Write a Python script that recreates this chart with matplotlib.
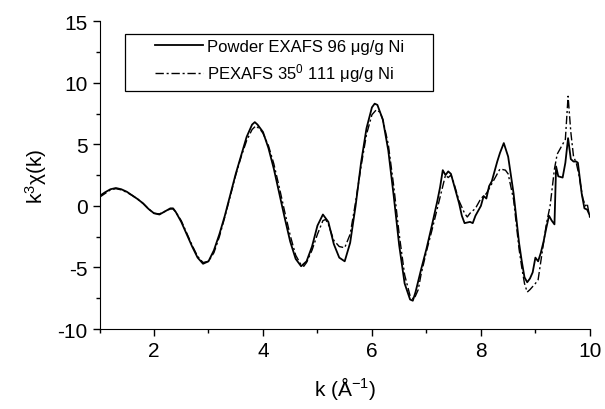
import matplotlib
matplotlib.use("Agg")
import matplotlib.pyplot as plt
from matplotlib.patches import Rectangle
from matplotlib.ticker import MultipleLocator

plt.rcParams['font.family'] = ['Liberation Sans', 'DejaVu Sans']
plt.rcParams['mathtext.fontset'] = 'custom'
plt.rcParams['mathtext.rm'] = 'Liberation Sans'
plt.rcParams['mathtext.default'] = 'regular'
plt.rcParams['axes.unicode_minus'] = False

# Powder EXAFS, 96 ug/g Ni (solid)
k_powder = [1.0, 1.1, 1.2, 1.3, 1.4, 1.5, 1.6, 1.7, 1.8, 1.9, 2.0, 2.1, 2.2, 2.3, 2.35,
            2.4, 2.5, 2.6, 2.7, 2.8, 2.9, 3.0, 3.1, 3.2, 3.3, 3.4, 3.5, 3.6, 3.7, 3.8,
            3.85, 3.9, 4.0, 4.1, 4.2, 4.3, 4.4, 4.5, 4.6, 4.7, 4.8, 4.9, 5.0, 5.1, 5.2,
            5.3, 5.4, 5.5, 5.6, 5.7, 5.8, 5.9, 6.0, 6.05, 6.1, 6.2, 6.3, 6.4, 6.5, 6.6,
            6.7, 6.75, 6.8, 6.9, 7.0, 7.1, 7.2, 7.25, 7.3, 7.35, 7.4, 7.45, 7.5, 7.6,
            7.65, 7.7, 7.8, 7.85, 7.9, 8.0, 8.05, 8.1, 8.15, 8.2, 8.3, 8.35, 8.42, 8.5,
            8.6, 8.65, 8.7, 8.75, 8.8, 8.85, 8.9, 8.95, 9.0, 9.05, 9.1, 9.15, 9.2, 9.25,
            9.3, 9.35, 9.38, 9.42, 9.5, 9.55, 9.6, 9.65, 9.7, 9.75, 9.78, 9.85, 9.9,
            9.95, 10.0]
chi_powder = [0.8, 1.1, 1.35, 1.45, 1.35, 1.15, 0.85, 0.55, 0.2, -0.25, -0.6, -0.7, -0.45,
              -0.2, -0.2, -0.5, -1.3, -2.3, -3.3, -4.2, -4.7, -4.5, -3.6, -2.3, -0.8, 0.9,
              2.6, 4.1, 5.6, 6.6, 6.8, 6.6, 6.0, 4.7, 3.0, 1.0, -1.0, -2.9, -4.3, -4.9,
              -4.5, -3.3, -1.6, -0.7, -1.3, -3.1, -4.2, -4.5, -3.0, 0.0, 3.5, 6.3, 8.0,
              8.3, 8.2, 7.0, 4.5, 0.8, -3.2, -6.3, -7.6, -7.7, -7.0, -5.2, -3.5, -1.6,
              0.4, 1.5, 2.9, 2.5, 2.8, 2.6, 1.8, 0.2, -0.8, -1.4, -1.3, -1.4, -0.8, 0.0,
              0.8, 0.6, 1.6, 2.0, 3.6, 4.3, 5.1, 4.0, 1.0, -1.0, -3.0, -4.5, -5.8, -6.2,
              -5.9, -5.4, -4.2, -4.5, -3.8, -2.9, -1.8, -0.8, -1.2, -1.5, 3.2, 2.4, 2.3,
              3.5, 5.5, 3.8, 3.6, 3.6, 3.5, 1.0, -0.2, -0.3, -0.8]

# PEXAFS 35 deg, 111 ug/g Ni (dash-dot)
k_pexafs = [1.0, 1.1, 1.2, 1.3, 1.4, 1.5, 1.6, 1.7, 1.8, 1.9, 2.0, 2.1, 2.2, 2.3, 2.35,
            2.4, 2.5, 2.6, 2.7, 2.8, 2.9, 3.0, 3.1, 3.2, 3.3, 3.4, 3.5, 3.6, 3.7, 3.8,
            3.87, 3.95, 4.0, 4.1, 4.2, 4.3, 4.4, 4.5, 4.6, 4.7, 4.75, 4.8, 4.9, 5.0,
            5.1, 5.15, 5.2, 5.3, 5.4, 5.5, 5.6, 5.7, 5.8, 5.9, 6.0, 6.08, 6.15, 6.2,
            6.3, 6.4, 6.5, 6.6, 6.7, 6.77, 6.85, 6.9, 7.0, 7.1, 7.2, 7.3, 7.35, 7.4,
            7.45, 7.5, 7.6, 7.7, 7.75, 7.8, 7.9, 8.0, 8.1, 8.2, 8.3, 8.35, 8.45, 8.5,
            8.6, 8.65, 8.7, 8.75, 8.8, 8.85, 8.9, 9.0, 9.05, 9.1, 9.2, 9.27, 9.35, 9.4,
            9.5, 9.55, 9.6, 9.65, 9.7, 9.75, 9.8, 9.87, 9.92, 9.95, 10.0]
chi_pexafs = [0.7, 1.0, 1.3, 1.4, 1.3, 1.1, 0.85, 0.55, 0.2, -0.25, -0.6, -0.65, -0.45,
              -0.25, -0.25, -0.5, -1.2, -2.2, -3.2, -4.1, -4.6, -4.5, -3.8, -2.5, -0.9,
              0.8, 2.5, 4.0, 5.3, 6.2, 6.5, 6.2, 5.9, 4.9, 3.4, 1.5, -0.5, -2.4, -4.0,
              -4.8, -4.9, -4.6, -3.6, -2.3, -1.2, -1.1, -1.5, -2.8, -3.3, -3.4, -2.3, 0.3,
              3.2, 5.8, 7.4, 7.8, 7.6, 7.0, 5.0, 1.6, -2.3, -5.6, -7.3, -7.6, -6.8, -5.6,
              -3.7, -2.0, -0.2, 1.6, 2.5, 2.3, 2.5, 1.9, 0.4, -0.6, -0.9, -0.6, -0.2, 0.6,
              1.0, 1.8, 2.6, 3.0, 2.9, 2.6, 0.5, -1.5, -3.5, -5.0, -6.3, -7.0, -6.8, -6.3,
              -6.0, -4.5, -1.5, 0.0, 3.0, 4.2, 5.0, 5.4, 8.9, 6.0, 4.0, 3.5, 2.5, 0.6, 0.0,
              0.2, -1.0]

fig = plt.figure(figsize=(6.05, 4.10), dpi=100)
ax = fig.add_axes([0.1645, 0.195, 0.8105, 0.751])

ax.plot(k_powder, chi_powder, color='black', lw=1.3, ls='-',
        label='Powder EXAFS 96 μg/g Ni')
ax.plot(k_pexafs, chi_pexafs, color='black', lw=1.0, ls=(0, (6, 2, 1.5, 2)),
        label='PEXAFS 35$^{0}$ 111 μg/g Ni')

ax.set_xlim(1, 10)
ax.set_ylim(-10, 15)
ax.xaxis.set_major_locator(MultipleLocator(2))
ax.xaxis.set_minor_locator(MultipleLocator(1))
ax.yaxis.set_major_locator(MultipleLocator(5))
ax.yaxis.set_minor_locator(MultipleLocator(2.5))
ax.spines['top'].set_visible(False)
ax.spines['right'].set_visible(False)
ax.tick_params(which='major', direction='out', length=5, width=1, labelsize=15)
ax.tick_params(which='minor', direction='out', length=3, width=1)

ax.set_xlabel('k (Å$^{-1}$)', fontsize=15, labelpad=10)
ax.set_ylabel('k$^{3}$χ(k)', fontsize=15, labelpad=6)

# Origin-style legend: wide frame drawn separately
ax.add_patch(Rectangle((0.052, 0.773), 0.628, 0.185, transform=ax.transAxes,
                       fill=False, edgecolor='black', lw=0.9, clip_on=False))
ax.legend(loc='upper left', bbox_to_anchor=(0.113, 0.942), fontsize=12,
          frameon=False, handlelength=2.9, handletextpad=0.25, borderpad=0,
          borderaxespad=0, labelspacing=0.45)

fig.savefig('out.png', dpi=100)
